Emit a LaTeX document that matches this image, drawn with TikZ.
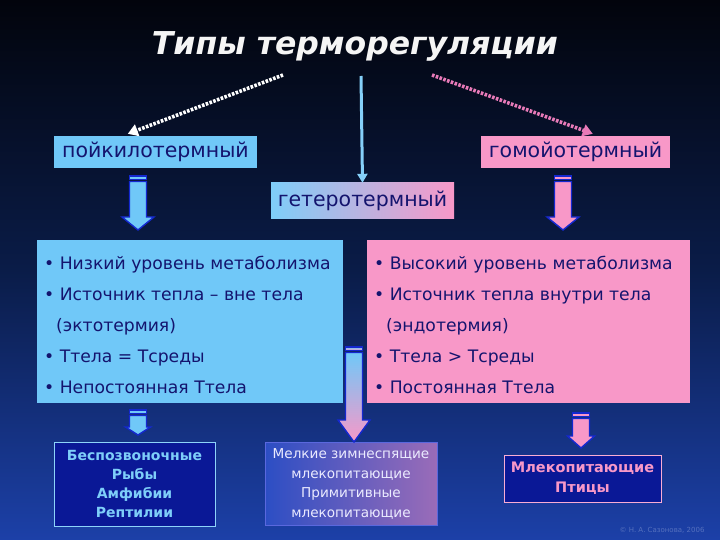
\documentclass[tikz,border=0pt]{standalone}
\usepackage{fontspec}
\setmainfont{DejaVu Sans}
\usetikzlibrary{arrows.meta}
\definecolor{bgtop}{HTML}{02040C}
\definecolor{bgmid}{HTML}{0A1C48}
\definecolor{bgbot}{HTML}{1C40A8}
\definecolor{lblue}{HTML}{70C8F8}
\definecolor{lpink}{HTML}{F898C8}
\definecolor{navytext}{HTML}{14146E}
\definecolor{darkbox}{HTML}{0A1896}
\definecolor{edgeblue}{HTML}{1428D0}
\definecolor{dotpink}{HTML}{E87AB8}
\definecolor{midl}{HTML}{2C4EC4}
\definecolor{midr}{HTML}{9A6CB8}
\newcommand{\blockarr}[8]{% x, ytop, yhead, ytip, halfshaft, halfhead, style
  \path[#7] (#1-#5,#2) rectangle (#1+#5,#2+3.5);
  \path[#7] (#1-#5,#2+5.5) -- (#1+#5,#2+5.5) -- (#1+#5,#3) -- (#1+#6,#3) -- (#1,#4) -- (#1-#6,#3) -- (#1-#5,#3) -- cycle;
}
\begin{document}
\begin{tikzpicture}[x=1pt,y=-1pt,
  topbox/.style={rectangle, inner sep=0pt, text=navytext, font=\fontsize{20.5}{22}\selectfont},
  bigbox/.style={rectangle, inner sep=0pt},
  listtext/.style={anchor=north west, inner sep=0pt, align=left, text=navytext, font=\fontsize{17.2}{31}\selectfont},
  lowbox/.style={rectangle, inner sep=0pt, line width=0.8pt, align=center},
  dotarrow/.style={line width=3.6pt, dash pattern=on 2.6pt off 1.4pt, -{Triangle[length=10pt,width=12pt]}},
  arrfill/.style={draw=edgeblue, line width=1.4pt}
]
\useasboundingbox (0,0) rectangle (720,540);
\shade[top color=bgtop, bottom color=bgbot, middle color=bgmid] (0,0) rectangle (720,540);

% title
\node[text=white!92!gray, font=\fontsize{31.5}{34}\selectfont\bfseries\itshape] (title) at (355,46) {Типы терморегуляции};

% top boxes
\node[topbox, fill=lblue, minimum width=203pt, minimum height=32pt] (poik) at (155.5,152) {пойкилотермный};
\node[topbox, fill=lpink, minimum width=189pt, minimum height=32pt] (gomo) at (575.5,152) {гомойотермный};
\node[topbox, left color=lblue!90!white, right color=lpink, minimum width=183pt, minimum height=36pt] (get) at (362.5,201) {гетеротермный};

% connectors from title
\coordinate (tl) at (283,75);
\coordinate (tr) at (432,75);
\coordinate (tc) at (361,76);
\draw[dotarrow, white] (tl) -- ([xshift=74pt,yshift=2pt]poik.north west);
\draw[dotarrow, dotpink] (tr) -- ([xshift=112pt,yshift=2pt]gomo.north west);
\draw[line width=3pt, lblue!85!white, -{Triangle[length=9pt,width=10pt]}] (tc) -- (get.north);

% big boxes
\node[bigbox, fill=lblue, minimum width=306pt, minimum height=163pt] (lbig) at (190,321.5) {};
\node[bigbox, fill=lpink, minimum width=323pt, minimum height=163pt] (rbig) at (528.5,321.5) {};
\node[listtext] (ltext) at (44,255.5) {• Низкий уровень метаболизма\\• Источник тепла – вне тела\\\hspace{12pt}(эктотермия)\\• Ттела = Тсреды\\• Непостоянная Ттела};
\node[listtext] (rtext) at (374,255.5) {• Высокий уровень метаболизма\\• Источник тепла внутри тела\\\hspace{12pt}(эндотермия)\\• Ттела > Тсреды\\• Постоянная Ттела};

% block arrows top
\blockarr{138}{176}{217}{230}{8.5}{16}{fill=lblue, arrfill}{}
\blockarr{563}{176}{217}{230}{8.5}{16}{fill=lpink, arrfill}{}

% bottom boxes
\node[lowbox, fill=darkbox, draw=lblue!80!white, minimum width=161pt, minimum height=84pt, text=lblue!90!white, font=\fontsize{14}{19}\selectfont\bfseries] (inv) at (134.5,484) {Беспозвоночные\\Рыбы\\Амфибии\\Рептилии};
\node[lowbox, left color=midl, right color=midr, draw=edgeblue!70!white, minimum width=172pt, minimum height=83pt, text=white!92!blue, font=\fontsize{13.6}{19.5}\selectfont] (hib) at (351,484) {Мелкие зимнеспящие\\млекопитающие\\Примитивные\\млекопитающие};
\node[lowbox, fill=darkbox, draw=lpink!80!white, minimum width=157pt, minimum height=47pt, text=lpink, font=\fontsize{14.5}{20}\selectfont\bfseries] (mam) at (582.5,478.5) {Млекопитающие\\Птицы};

% block arrows bottom
\blockarr{138}{410}{427}{435}{8.5}{12.5}{fill=lblue, arrfill}{}
\blockarr{581}{413}{436}{448}{8.5}{13.5}{fill=lpink, arrfill}{}
\blockarr{354}{347}{420}{442}{8.5}{16}{top color=lblue, bottom color=lpink, arrfill}{}

% copyright
\node[text=bgbot!75!white, font=\fontsize{7}{8}\selectfont] (copy) at (662,530) {© Н. А. Сазонова, 2006};
\end{tikzpicture}
\end{document}
